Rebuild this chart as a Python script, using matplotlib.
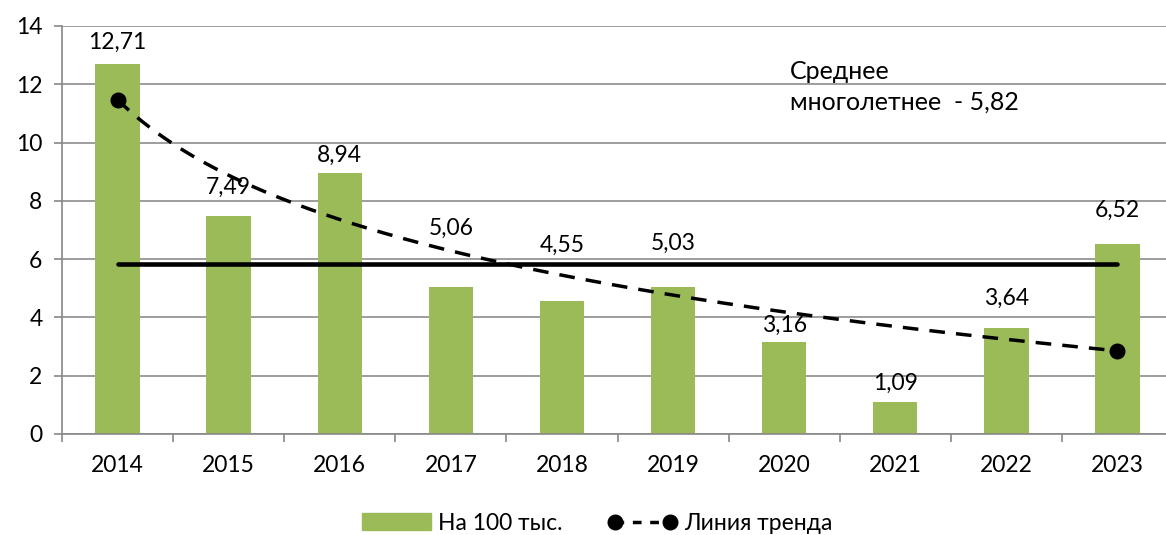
import matplotlib.pyplot as plt
from matplotlib.lines import Line2D
from matplotlib.patches import Patch
import numpy as np

plt.rcParams['font.family'] = ['Lato', 'DejaVu Sans']

years = ['2014', '2015', '2016', '2017', '2018', '2019', '2020', '2021', '2022', '2023']
per_100k = [12.71, 7.49, 8.94, 5.06, 4.55, 5.03, 3.16, 1.09, 3.64, 6.52]
mean_value = 5.82

# label lift above each bar top, pixels
label_lift = [21, 28, 18, 58, 56, 44, 17, 19, 30, 34]

x = np.arange(len(years))

# logarithmic trend, like the spreadsheet one
b, a = np.polyfit(np.log(x + 1), per_100k, 1)
xt = np.linspace(0, len(years) - 1, 200)
trend = a + b * np.log(xt + 1)

fig = plt.figure(figsize=(11.66, 5.35), dpi=100)
ax = fig.add_axes([62 / 1166, 1 - 434 / 535, 1111 / 1166, 408 / 535])

green = '#9BBB59'
ax.bar(x, per_100k, width=0.4, color=green, zorder=2)

ax.plot([x[0], x[-1]], [mean_value, mean_value], color='black', lw=3.3,
        solid_capstyle='round', zorder=3)
ax.plot(xt, trend, color='black', lw=2.5, ls=(0, (4.5, 3.2)), zorder=4)
ax.plot([xt[0], xt[-1]], [trend[0], trend[-1]], 'o', color='black', ms=10.5, zorder=5)

for xi, v, lift in zip(x, per_100k, label_lift):
    ax.annotate(f'{v:.2f}'.replace('.', ','), (xi, v), xytext=(0, lift),
                textcoords='offset pixels', ha='center', va='center', fontsize=16.5)

ax.text(6.05, 12.45, 'Среднее', fontsize=18, va='center')
ax.text(6.05, 11.4, 'многолетнее  - 5,82', fontsize=18, va='center')

ax.set_xlim(-0.5, len(years) - 0.5)
ax.set_ylim(0, 14)
ax.set_yticks(range(0, 15, 2))
ax.set_xticks(x)
ax.set_xticklabels(years)
ax.set_xticks(np.arange(-0.5, len(years), 1), minor=True)
ax.tick_params(axis='x', which='major', length=0, pad=15, labelsize=16.5)
ax.tick_params(axis='x', which='minor', length=6, color='#888888', width=1.2)
ax.tick_params(axis='y', length=6, color='#888888', width=1.2, labelsize=16.5, pad=8)
ax.grid(axis='y', color='#8c8c8c', lw=1.2, zorder=0)
for side in ['top', 'right']:
    ax.spines[side].set_visible(False)
ax.spines['left'].set_color('#888888')
ax.spines['bottom'].set_color('#888888')
ax.spines['left'].set_linewidth(1.2)
ax.spines['bottom'].set_linewidth(1.2)

handles = [Patch(color=green),
           Line2D([], [], color='black', lw=2.5, ls=(0, (2.5, 2.5)), marker='o', ms=10.5)]
fig.legend(handles, ['На 100 тыс.', 'Линия тренда'], loc='center',
           bbox_to_anchor=(0.512, 0.022), ncol=2, frameon=False, fontsize=16.5,
           numpoints=2, handlelength=3.0, handleheight=0.75, columnspacing=2.0,
           handletextpad=0.3)

fig.savefig('out.png', dpi=100)
